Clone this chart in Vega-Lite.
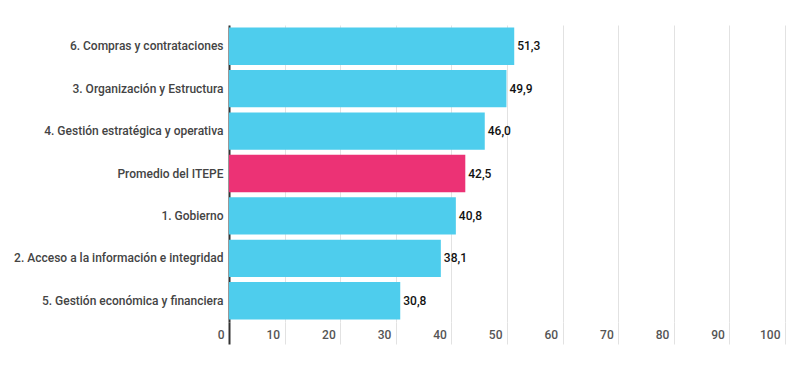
{
  "$schema": "https://vega.github.io/schema/vega-lite/v6.json",
  "autosize": "none",
  "width": 556,
  "height": 297,
  "padding": {"left": 229, "top": 25, "right": 15, "bottom": 45},
  "background": "white",
  "config": {"view": {"stroke": null}, "font": "Roboto"},
  "data": {"values": [
    {"cat": "6. Compras y contrataciones", "v": 51.3, "lab": "51,3", "type": "dim"},
    {"cat": "3. Organización y Estructura", "v": 49.9, "lab": "49,9", "type": "dim"},
    {"cat": "4. Gestión estratégica y operativa", "v": 46.0, "lab": "46,0", "type": "dim"},
    {"cat": "Promedio del ITEPE", "v": 42.5, "lab": "42,5", "type": "avg"},
    {"cat": "1. Gobierno", "v": 40.8, "lab": "40,8", "type": "dim"},
    {"cat": "2. Acceso a la información e integridad", "v": 38.1, "lab": "38,1", "type": "dim"},
    {"cat": "5. Gestión económica y financiera", "v": 30.8, "lab": "30,8", "type": "dim"}
  ]},
  "encoding": {
    "y": {"field": "cat", "type": "nominal", "sort": null, "title": null,
      "scale": {"paddingInner": 0.12, "paddingOuter": 0.06},
      "axis": {"domain": true, "domainColor": "#333", "domainWidth": 2, "ticks": false,
        "labelFont": "Roboto", "labelFontSize": 12, "labelFontWeight": 500, "labelColor": "#444", "labelPadding": 6, "labelLimit": 300}},
    "x": {"field": "v", "type": "quantitative", "title": null,
      "scale": {"domain": [0, 100], "nice": false},
      "axis": {"values": [0,10,20,30,40,50,60,70,80,90,100], "domain": false,
        "grid": true, "gridColor": "#e2e2e2", "gridWidth": 1,
        "ticks": true, "tickSize": 22,
        "tickColor": {"condition": {"test": "datum.value === 0", "value": "#333"}, "value": "#e2e2e2"},
        "tickWidth": {"condition": {"test": "datum.value === 0", "value": 2}, "value": 1},
        "labelAlign": "right", "labelOffset": -5, "labelPadding": -15,
        "labelFont": "Roboto", "labelFontSize": 12, "labelFontWeight": 500, "labelColor": "#555", "labelFlush": false}}
  },
  "layer": [
    {"mark": {"type": "bar"},
     "encoding": {"color": {"field": "type", "type": "nominal", "legend": null,
       "scale": {"domain": ["dim", "avg"], "range": ["#4ECDED", "#EC3275"]}}}},
    {"mark": {"type": "text", "align": "left", "dx": 3, "font": "Roboto", "fontSize": 12, "fontWeight": 500, "color": "#111"},
     "encoding": {"text": {"field": "lab"}}}
  ]
}
